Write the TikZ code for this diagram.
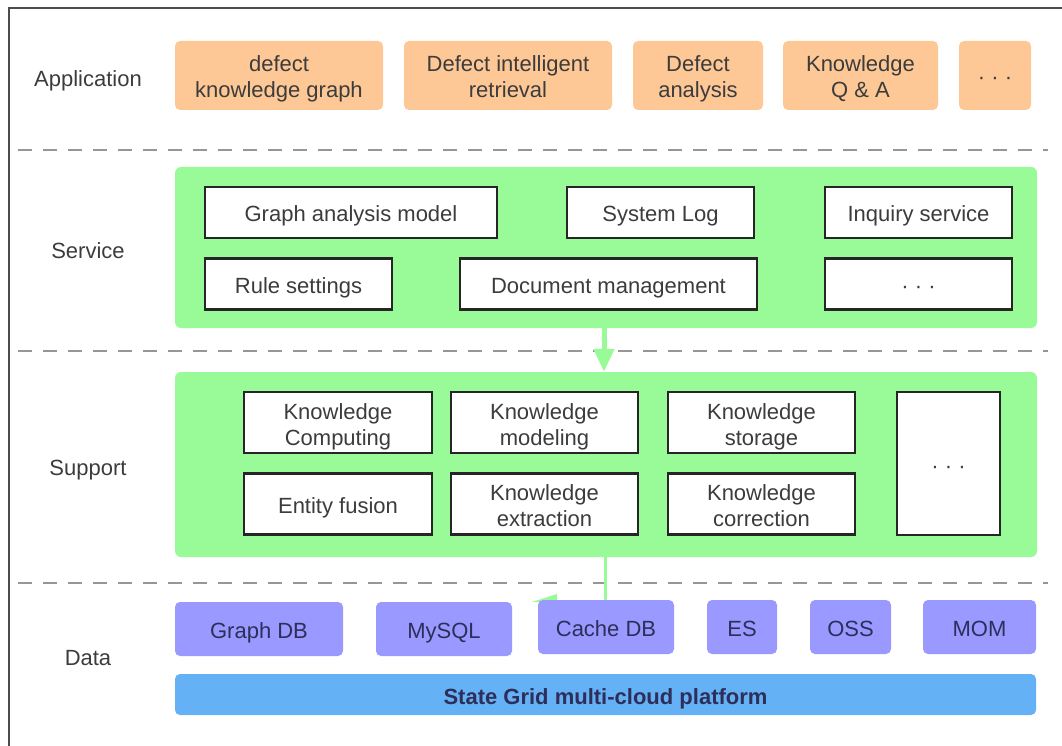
\documentclass[tikz,border=0pt]{standalone}
\usepackage{fontspec}
\setmainfont{Liberation Sans}
\usetikzlibrary{arrows.meta}
\definecolor{appfill}{RGB}{253,200,150}
\definecolor{panelgreen}{RGB}{152,251,152}
\definecolor{dbfill}{RGB}{153,153,255}
\definecolor{cloudfill}{RGB}{100,178,245}
\definecolor{textgray}{RGB}{60,60,60}
\definecolor{dbtext}{RGB}{46,46,90}
\definecolor{sepgray}{RGB}{150,150,150}
\tikzset{>=Latex,
  txt/.style={font=\fontsize{22}{26}\selectfont, text=textgray, align=center,
    execute at begin node=\rule{0pt}{24pt},
    execute at end node=\rule[-5pt]{0pt}{5pt}},
  two/.style={execute at begin node=\rule{0pt}{50pt}},
  appbox/.style={txt, fill=appfill, rounded corners=5pt, inner sep=0pt,
    minimum height=69pt},
  panel/.style={fill=panelgreen, rounded corners=6pt, inner sep=0pt,
    minimum width=862pt},
  item/.style={txt, draw=black!85, line width=2.5pt, fill=white, inner sep=0pt},
  dbbox/.style={txt, text=dbtext, fill=dbfill, rounded corners=5pt,
    inner sep=0pt, minimum height=54pt},
  sep/.style={draw=sepgray, line width=2pt, dash pattern=on 14pt off 11pt},
  flow/.style={draw=panelgreen, line width=5pt}}

\begin{document}
\begin{tikzpicture}[x=1pt,y=-1pt]
  \useasboundingbox (0,0) rectangle (1062,746);
  \draw[black!70, line width=2pt] (9,770) -- (9,8) -- (1080,8);

  % layer names
  \node[txt] (lapp) at (88,77) {Application};
  \node[txt] (lsvc) at (88,249) {Service};
  \node[txt] (lsup) at (88,466) {Support};
  \node[txt] (ldat) at (88,656) {Data};

  % dividers
  \foreach \y in {150,351,583}
    \draw[sep] (18,\y) -- (1048,\y);

  % application
  \node[appbox, two, minimum width=208pt] (kg) at (279,75.5) {defect\\knowledge graph};
  \node[appbox, two, minimum width=208pt] (ret) at (508,75.5) {Defect intelligent\\retrieval};
  \node[appbox, two, minimum width=130pt] (ana) at (698,75.5) {Defect\\analysis};
  \node[appbox, two, minimum width=155pt] (qa) at (860.5,75.5) {Knowledge\\Q \& A};
  \node[appbox, minimum width=72pt] (appmore) at (995,75.5) {· · ·};

  % service
  \node[panel, minimum height=161pt] (svc) at (606,247.5) {};
  \node[item, minimum width=292pt, minimum height=51pt] (gam) at (351,212.5) {Graph analysis model};
  \node[item, minimum width=187pt, minimum height=51pt] (log) at (660.5,212.5) {System Log};
  \node[item, minimum width=187pt, minimum height=51pt] (inq) at (918.5,212.5) {Inquiry service};
  \node[item, minimum width=187pt, minimum height=51pt] (rule) at (298.5,284) {Rule settings};
  \node[item, minimum width=297pt, minimum height=51pt] (doc) at (608.5,284) {Document management};
  \node[item, minimum width=187pt, minimum height=51pt] (svmore) at (918.5,284) {· · ·};

  % support
  \node[panel, minimum height=185pt] (sup) at (606,464.5) {};
  \draw[flow, -{Triangle[width=20pt,length=23pt]}] (svc.south -| 604,0) -- (sup.north -| 604,0);
  \node[item, two, minimum width=188pt, minimum height=61pt] (comp) at (338,422.5) {Knowledge\\Computing};
  \node[item, two, minimum width=187pt, minimum height=61pt] (mod) at (544.5,422.5) {Knowledge\\modeling};
  \node[item, two, minimum width=187pt, minimum height=61pt] (sto) at (761.5,422.5) {Knowledge\\storage};
  \node[item, minimum width=188pt, minimum height=61pt] (fus) at (338,504) {Entity fusion};
  \node[item, two, minimum width=187pt, minimum height=61pt] (ext) at (544.5,504) {Knowledge\\extraction};
  \node[item, two, minimum width=187pt, minimum height=61pt] (cor) at (761.5,504) {Knowledge\\correction};
  \node[item, minimum width=103pt, minimum height=143pt] (spmore) at (948.5,463.5) {· · ·};

  % data
  \fill[panelgreen] (532,602) -- (557,594) -- (557,602) -- cycle;
  \node[dbbox, minimum width=168pt] (gdb) at (259,629) {Graph DB};
  \node[dbbox, minimum width=136pt] (sql) at (444,629) {MySQL};
  \node[dbbox, minimum width=136pt] (cdb) at (606,627) {Cache DB};
  \node[dbbox, minimum width=70pt] (es) at (742,627) {ES};
  \node[dbbox, minimum width=81pt] (oss) at (850.5,627) {OSS};
  \node[dbbox, minimum width=113pt] (mom) at (979.5,627) {MOM};
  \draw[flow, line width=3pt] (sup.south -| 605,0) -- (cdb.north -| 605,0);
  \node[txt, text=dbtext, font=\fontsize{22}{26}\selectfont\bfseries, fill=cloudfill,
    rounded corners=5pt, inner sep=0pt, minimum width=861pt, minimum height=41pt]
    (cloud) at (605.5,694.5) {State Grid multi-cloud platform};
\end{tikzpicture}
\end{document}
